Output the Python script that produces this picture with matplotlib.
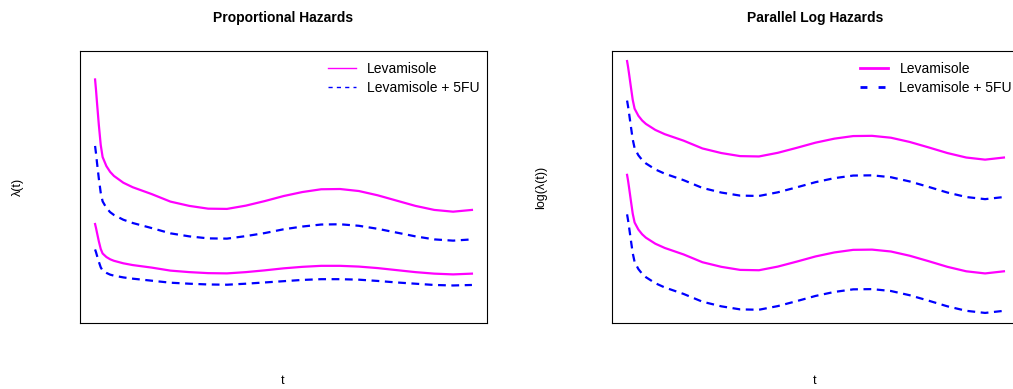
import matplotlib.pyplot as plt

plt.rcParams['font.family'] = ['Liberation Sans', 'DejaVu Sans']

# time grid (no ticks on the chart, arbitrary units)
t = [0, 0.025, 0.05, 0.1, 0.15, 0.2, 0.3, 0.4, 0.5, 0.75, 1, 1.5, 2, 2.5, 3, 3.5,
     4, 4.5, 5, 5.5, 6, 6.5, 7, 7.5, 8, 8.5, 9, 9.5, 10]

# left panel: hazards, proportional
haz_lev_hi = [9.27, 8.85, 8.37, 7.46, 6.67, 6.19, 5.83, 5.60, 5.44, 5.17, 4.99, 4.72, 4.42, 4.25, 4.14,
              4.13, 4.26, 4.44, 4.64, 4.80, 4.91, 4.92, 4.84, 4.67, 4.46, 4.25, 4.09, 4.02, 4.09]
haz_5fu_hi = [6.63, 6.33, 5.98, 5.33, 4.77, 4.43, 4.17, 4.00, 3.89, 3.70, 3.57, 3.37, 3.16, 3.04, 2.96,
              2.95, 3.05, 3.17, 3.32, 3.43, 3.51, 3.52, 3.46, 3.34, 3.19, 3.04, 2.92, 2.87, 2.92]
haz_lev_lo = [3.53, 3.37, 3.19, 2.84, 2.54, 2.36, 2.22, 2.13, 2.07, 1.97, 1.90, 1.80, 1.68, 1.62, 1.58,
              1.57, 1.62, 1.69, 1.77, 1.83, 1.87, 1.87, 1.84, 1.78, 1.70, 1.62, 1.56, 1.53, 1.56]
haz_5fu_lo = [2.52, 2.41, 2.28, 2.03, 1.81, 1.68, 1.59, 1.52, 1.48, 1.41, 1.36, 1.28, 1.20, 1.16, 1.13,
              1.12, 1.16, 1.21, 1.26, 1.31, 1.34, 1.34, 1.32, 1.27, 1.21, 1.16, 1.11, 1.09, 1.11]

# right panel: log hazards, parallel
log_lev_hi = [2.227, 2.180, 2.125, 2.010, 1.898, 1.823, 1.763, 1.723, 1.694, 1.643, 1.607, 1.552, 1.486, 1.447, 1.421,
              1.418, 1.449, 1.491, 1.535, 1.569, 1.591, 1.593, 1.577, 1.541, 1.495, 1.447, 1.409, 1.391, 1.409]
log_5fu_hi = [1.892, 1.845, 1.790, 1.675, 1.563, 1.488, 1.428, 1.388, 1.359, 1.308, 1.272, 1.217, 1.151, 1.112, 1.086,
              1.083, 1.114, 1.156, 1.200, 1.234, 1.256, 1.258, 1.242, 1.206, 1.160, 1.112, 1.074, 1.056, 1.074]
log_lev_lo = [1.262, 1.215, 1.160, 1.045, 0.933, 0.858, 0.798, 0.758, 0.729, 0.678, 0.642, 0.587, 0.521, 0.482, 0.456,
              0.453, 0.484, 0.526, 0.570, 0.604, 0.626, 0.628, 0.612, 0.576, 0.530, 0.482, 0.444, 0.426, 0.444]
log_5fu_lo = [0.927, 0.880, 0.825, 0.710, 0.598, 0.523, 0.463, 0.423, 0.394, 0.343, 0.307, 0.252, 0.186, 0.147, 0.121,
              0.118, 0.149, 0.191, 0.235, 0.269, 0.291, 0.293, 0.277, 0.241, 0.195, 0.147, 0.109, 0.091, 0.109]

labels = ['Levamisole', 'Levamisole + 5FU']
col_lev = '#ff00ff'
col_5fu = '#0000ff'

W, H = 1013, 389
fig = plt.figure(figsize=(W / 100, H / 100), dpi=100)

def box(x0, y0, x1, y1):
    return [x0 / W, 1 - y1 / H, (x1 - x0) / W, (y1 - y0) / H]

ax1 = fig.add_axes(box(80, 51, 487, 323))
ax2 = fig.add_axes(box(612, 51, 1019, 323))


def draw(ax, hi_lev, hi_5fu, lo_lev, lo_5fu, leg_lw, leg_dash):
    ax.plot(t, hi_lev, color=col_lev, lw=1.6)
    ax.plot(t, hi_5fu, color=col_5fu, lw=1.6, ls=(0, (3.5, 2.5)))
    ax.plot(t, lo_lev, color=col_lev, lw=1.6)
    ax.plot(t, lo_5fu, color=col_5fu, lw=1.6, ls=(0, (3.5, 2.5)))
    ax.set_xticks([])
    ax.set_yticks([])
    for s in ax.spines.values():
        s.set_linewidth(0.8)
    h1 = plt.Line2D([], [], color=col_lev, lw=leg_lw)
    h2 = plt.Line2D([], [], color=col_5fu, lw=leg_lw, ls=(0, leg_dash))
    ax.legend([h1, h2], labels, loc='upper right', frameon=False, fontsize=10,
              handlelength=1.95, handletextpad=0.85, labelspacing=0.33,
              borderaxespad=0, borderpad=0,
              bbox_to_anchor=(1 - 7 / 407, 1 - 11 / 272))


draw(ax1, haz_lev_hi, haz_5fu_hi, haz_lev_lo, haz_5fu_lo, 1.0, (3, 3))
ax1.set_xlim(-0.4, 10.4)
ax1.set_ylim(-0.4, 10.4)

draw(ax2, log_lev_hi, log_5fu_hi, log_lev_lo, log_5fu_lo, 2.0, (2.5, 4))
ax2.set_xlim(-0.4, 10.4)
ax2.margins(y=0.04)

fig.text(283 / W, 1 - 18 / H, 'Proportional Hazards', ha='center', va='center',
         fontsize=10, fontweight='bold')
fig.text(815 / W, 1 - 18 / H, 'Parallel Log Hazards', ha='center', va='center',
         fontsize=10, fontweight='bold')
fig.text(283 / W, 1 - 381 / H, 't', ha='center', va='center', fontsize=9)
fig.text(815 / W, 1 - 381 / H, 't', ha='center', va='center', fontsize=9)
fig.text(18 / W, 1 - 187 / H, 'λ(t)', ha='center', va='center', rotation=90, fontsize=9)
fig.text(541 / W, 1 - 187 / H, 'log(λ(t))', ha='center', va='center', rotation=90, fontsize=9)

fig.savefig('out.png', dpi=100)
